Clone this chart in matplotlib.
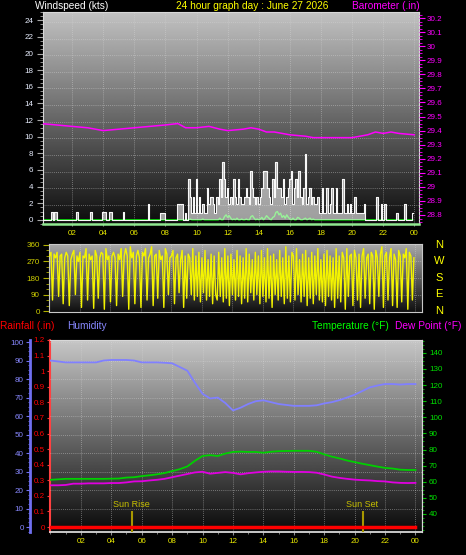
import numpy as np
import matplotlib
matplotlib.use('Agg')
import matplotlib.pyplot as plt
from matplotlib.ticker import MultipleLocator, FuncFormatter

# ---------------- data ----------------
title = "24 hour graph day : June 27 2026"

# 6-minute samples of wind gust (kts), 10 per hour
gust = [
    0, 1, 0, 0, 0, 0, 0, 1, 0, 1,
    1, 0, 0, 0, 0, 0, 0, 0, 0, 0,
    0, 0, 0, 1, 0, 0, 0, 0, 0, 0,
    0, 0, 1, 0, 0, 0, 0, 0, 0, 0,
    1, 1, 0, 0, 1, 1, 0, 0, 0, 0,
    0, 0, 0, 1, 0, 0, 0, 0, 0, 0,
    0, 0, 0, 0, 0, 0, 0, 0, 0, 1.9,
    0, 0, 0, 0, 0, 0, 0, 0.8, 0.8, 0.8,
    0, 0, 0, 0, 0, 0, 0, 0, 1.9, 1.9,
    1.9, 1.9, 0, 0.8, 0, 4.9, 2.8, 0.8, 2.8, 0.8,
    4.9, 0.8, 2.8, 0.8, 1.9, 0.8, 0.8, 3.8, 1.9, 2.8,
    2.8, 1.9, 0.8, 2.8, 1.9, 4.9, 2.8, 6.9, 4.9, 2.8,
    3.8, 1.9, 2.8, 1.9, 4.9, 2.8, 1.9, 4.9, 2.8, 1.9,
    1.9, 2.8, 3.8, 2.8, 1.9, 5.9, 3.8, 2.8, 1.9, 2.8,
    1.9, 2.8, 3.8, 5.9, 5.9, 5.9, 3.8, 2.8, 1.9, 4.9,
    2.8, 6.9, 3.8, 3.8, 3.8, 2.8, 4.9, 1.9, 2.8, 3.8,
    4.9, 5.9, 1.9, 3.8, 4.9, 2.8, 5.9, 2.8, 1.9, 3.8,
    7.9, 1.9, 2.8, 3.8, 1.9, 2.8, 1.9, 1.9, 2.8, 0.8,
    0.8, 3.8, 0.8, 0.8, 3.8, 0.8, 1.9, 3.8, 0.8, 0.8,
    3.8, 0.8, 0.8, 0.8, 4.9, 0.8, 0.8, 1.9, 0.8, 1.9,
    0.8, 0.8, 2.8, 0.8, 0.8, 0.8, 0.8, 0.8, 1.9, 0,
    0, 0, 0, 0, 0, 0, 2.8, 0, 0, 1.9,
    0, 1.9, 0, 0, 0, 0, 0, 0, 0, 0.8,
    0, 0, 0, 0, 1.9, 0, 0, 0, 0, 0.8,
]

# 6-minute average wind speed (kts)
wind_avg = (
    [0] * 90 +
    [0, 0, 0, 0, 0, 0, 0.1, 0, 0, 0,
     0, 0, 0, 0, 0.1, 0, 0, 0, 0, 0,
     0, 0, 0, 0, 0, 0.2, 0, 0, 0.4, 0.6,
     0.3, 0.5, 0.2, 0, 0.1, 0, 0.2, 0, 0, 0.1,
     0, 0, 0.1, 0, 0, 0.4, 0.5, 0.2, 0, 0.1,
     0, 0.1, 0.3, 0, 0.2, 0.5, 0.3, 0.1, 0, 0.3,
     0.4, 0.9, 1.0, 0.6, 0.8, 0.3, 0.5, 0.2, 0.6, 0.3,
     0.1, 0, 0.2, 0, 0, 0.3, 0.2, 0, 0, 0.1,
     0.2, 0, 0.1, 0.2, 0, 0.1, 0, 0, 0, 0] +
    [0] * 60
)

# 6-minute wind direction (degrees)
wind_dir = [
    300, 320, 60, 310, 290, 320, 80, 300, 310, 40,
    290, 320, 300, 30, 280, 310, 330, 90, 300, 270,
    320, 20, 300, 290, 340, 60, 310, 280, 300, 15,
    330, 300, 70, 290, 320, 310, 10, 340, 280, 300,
    50, 300, 320, 290, 30, 310, 280, 340, 80, 300,
    340, 300, 10, 350, 290, 320, 40, 300, 330, 290,
    20, 320, 300, 340, 60, 290, 310, 350, 30, 300,
    310, 70, 330, 280, 300, 20, 340, 310, 90, 290,
    300, 330, 40, 290, 310, 100, 280, 330, 20, 300,
    70, 310, 290, 90, 340, 60, 300, 80, 320, 50,
    290, 100, 330, 60, 280, 80, 310, 40, 300, 90,
    60, 320, 80, 290, 50, 340, 70, 300, 30, 310,
    90, 280, 60, 330, 80, 300, 40, 290, 70, 340,
    50, 310, 100, 280, 60, 320, 90, 300, 40, 330,
    80, 290, 50, 340, 70, 300, 20, 310, 90, 280,
    60, 330, 80, 290, 40, 350, 70, 300, 50, 320,
    300, 60, 340, 90, 280, 50, 310, 80, 330, 30,
    290, 70, 320, 40, 300, 90, 340, 60, 280, 50,
    310, 30, 330, 80, 300, 60, 290, 20, 340, 70,
    300, 50, 320, 290, 10, 340, 80, 300, 310, 30,
    330, 290, 60, 310, 20, 300, 340, 70, 290, 310,
    40, 320, 300, 10, 330, 290, 80, 310, 350, 20,
    300, 320, 60, 290, 340, 30, 310, 280, 20, 330,
    300, 50, 310, 290, 340, 10, 320, 300, 60, 290,
]

# barometer (inHg)
baro_hours = [0, 1, 2, 3, 4, 5, 6, 7, 8, 8.8, 9.3, 10, 10.8, 11.5, 12, 13, 13.5,
              14, 14.5, 15, 16, 17, 17.5, 18, 19, 20, 20.5, 21, 21.5, 22, 22.5, 23, 24]
baro = [29.45, 29.44, 29.43, 29.42, 29.40, 29.41, 29.42, 29.43, 29.44, 29.45, 29.42,
        29.42, 29.43, 29.41, 29.40, 29.41, 29.42, 29.41, 29.39, 29.39, 29.37, 29.36,
        29.35, 29.35, 29.35, 29.35, 29.36, 29.37, 29.39, 29.38, 29.39, 29.38, 29.37]

# half-hourly humidity / temperature / dew point
humidity = [90, 89.5, 89, 89, 89, 89, 89, 90, 90.3, 90.3, 90.3, 90, 89, 89, 89, 88.8,
            88.5, 86.5, 84.5, 78, 72, 69.5, 70, 67, 63, 64.5, 66.5, 68, 68.5, 67.5,
            66.5, 66, 65.5, 65.5, 65.5, 65.8, 66.8, 67.5, 68.6, 70, 71.5, 73.5, 75.5,
            76.5, 77.3, 77.3, 77, 77.3, 77.3]
temperature = [61.2, 61.5, 61.8, 61.8, 61.8, 61.8, 61.8, 61.8, 61.9, 62.0, 62.6, 62.8,
               63.5, 64, 64.6, 65.4, 66.6, 67.8, 69.5, 73, 76, 76.5, 76, 77.5, 78.5,
               78.7, 78.5, 78.5, 78, 78.6, 79, 79.1, 79.2, 79.2, 79.2, 78.6, 77, 75.6,
               74.5, 73.2, 72.2, 71.2, 70.3, 69.4, 68.6, 68.2, 67.5, 67.3, 67.3]
dew_point = [57.8, 57.8, 58.0, 58.8, 58.8, 59, 59, 59, 59.2, 59.2, 59.6, 60.2, 60.3,
             60.8, 61.2, 61.8, 62.8, 63.8, 64.8, 65.8, 66.2, 65, 65.5, 66, 65.5, 64.6,
             65.3, 65.8, 66.2, 66.4, 66.4, 66.2, 66.1, 66.1, 66, 65.6, 64.5, 63.2, 62.4,
             61.8, 61.3, 61, 60.8, 60.4, 60.2, 59.6, 59.3, 59.2, 59.3]
rainfall = [0] * 49

sun_rise = 5.35
sun_set = 20.55

hour_labels = ['02', '04', '06', '08', '10', '12', '14', '16', '18', '20', '22', '00']
compass = ['N', 'W', 'S', 'E', 'N']

t6 = np.arange(len(gust)) * 0.1
t30 = np.arange(len(humidity)) * 0.5
hour_ticks = np.arange(2, 25, 2)

# ---------------- figure ----------------
W, H = 466, 555
plt.rcParams['font.family'] = ['Liberation Sans', 'DejaVu Sans']
fig = plt.figure(figsize=(W / 100, H / 100), dpi=100, facecolor='black')


def rect(l, t, r, b):
    return [l / W, 1 - b / H, (r - l) / W, (b - t) / H]


def gradient(ax, top, bottom):
    g = np.linspace(bottom, top, 256).reshape(-1, 1)
    ax.imshow(g, extent=[0, 1, 0, 1], transform=ax.transAxes, origin='lower',
              cmap='gray', vmin=0, vmax=1, aspect='auto', zorder=0,
              interpolation='bilinear')


fmt_num = FuncFormatter(lambda v, p: ('%.1f' % v).rstrip('0').rstrip('.'))
GRID = dict(color='#d8d8d8', lw=0.6, ls=(0, (1, 1.5)), alpha=0.55, zorder=1)
TICKFS = 5.8

# ---------- top panel: wind speed + barometer ----------
ax1 = fig.add_axes(rect(43, 12, 419, 224))
ax1.set_facecolor('none')
gradient(ax1, 0.76, 0.05)
for h in hour_ticks:
    ax1.axvline(h, **GRID)
for v in range(2, 25, 2):
    ax1.axhline(v - 0.2, **GRID)
ax1.plot(t6, wind_avg, color='#00e000', lw=1, zorder=2)
ax1.fill_between(t6, 0, gust, step='mid', color='#ffffff', alpha=0.6, lw=0, zorder=3)
ax1.plot(t6, gust, drawstyle='steps-mid', color='#f8f8f8', lw=0.8, zorder=4)
ax1.set_xlim(0.13, 24.3)
ax1.set_ylim(-0.5, 25)
ax1.yaxis.set_major_locator(MultipleLocator(2))
ax1.yaxis.set_minor_locator(MultipleLocator(0.5))
ax1.xaxis.set_major_locator(plt.FixedLocator(hour_ticks))
ax1.xaxis.set_major_formatter(plt.FixedFormatter(hour_labels))
ax1.tick_params(axis='y', colors='#a8a8a8', labelcolor='#e8eeff', labelsize=TICKFS,
                length=4.5, width=0.8, pad=2.5)
ax1.tick_params(axis='y', which='minor', colors='#a8a8a8', length=2, width=0.6)
ax1.tick_params(axis='x', colors='#909090', labelcolor='#e8e800', labelsize=TICKFS,
                length=1.5, pad=2.5)
for s in ['left', 'top', 'right']:
    ax1.spines[s].set_color('#d8d8d8')
ax1.spines['bottom'].set_color('#90e890')
ax1.spines['bottom'].set_linewidth(1.8)

ax1b = ax1.twinx()
ax1b.plot(baro_hours, baro, color='#ff00ff', lw=1.1, zorder=5)
ax1b.set_ylim(28.736, 30.243)
ax1b.set_xlim(0.13, 24.3)
ax1b.yaxis.set_major_locator(MultipleLocator(0.1))
ax1b.yaxis.set_minor_locator(MultipleLocator(0.025))
ax1b.yaxis.set_major_formatter(fmt_num)
ax1b.tick_params(axis='y', colors='#ff00ff', labelcolor='#ff00ff', labelsize=TICKFS,
                 length=4, width=0.8, pad=1.5)
ax1b.tick_params(axis='y', which='minor', colors='#ff00ff', length=1.8, width=0.6)
for s in ax1b.spines.values():
    s.set_visible(False)

# ---------- middle panel: wind direction ----------
ax2 = fig.add_axes(rect(49, 244, 422, 312))
ax2.set_facecolor('none')
gradient(ax2, 0.66, 0.06)
for h in hour_ticks:
    ax2.axvline(h, **GRID)
for v in [90, 180, 270]:
    ax2.axhline(v, **GRID)
ax2.plot(t6, wind_dir, color='#f4f400', lw=1.0, zorder=3)
ax2.set_xlim(-0.03, 24.43)
ax2.set_ylim(-5, 365)
ax2.yaxis.set_major_locator(plt.FixedLocator([0, 90, 180, 270, 360]))
ax2.yaxis.set_minor_locator(MultipleLocator(30))
ax2.set_xticks([])
ax2.tick_params(axis='y', colors='#b0b000', labelcolor='#d0d000', labelsize=TICKFS,
                length=4, width=0.8, pad=2.5)
ax2.tick_params(axis='y', which='minor', colors='#b0b000', length=2)
for s in ax2.spines.values():
    s.set_color('#c8c8c8')
for i, c in enumerate(compass):
    fig.text(439 / W, 1 - (245 + i * 16.4) / H, c, color='#ffff00', fontsize=8,
             ha='center', va='center')

# ---------- bottom panel: rain / humidity / temp / dew ----------
ax3 = fig.add_axes(rect(50, 340, 422, 532))
ax3.set_facecolor('none')
gradient(ax3, 0.78, 0.04)
for h in hour_ticks:
    ax3.axvline(h, **GRID)
ax3.plot(t30, rainfall, color='#ff0000', lw=2.5, zorder=6)
ax3.vlines([sun_rise, sun_set], -0.03, 0.1, color='#a89800', lw=1.5, zorder=5)
ax3.text(sun_rise - 0.05, 0.115, 'Sun Rise', color='#c8c000', fontsize=6.5,
         ha='center', va='bottom', zorder=5)
ax3.text(sun_set - 0.05, 0.115, 'Sun Set', color='#c8c000', fontsize=6.5,
         ha='center', va='bottom', zorder=5)
ax3.set_xlim(-0.03, 24.43)
ax3.set_ylim(-0.032, 1.2)
ax3.yaxis.set_major_locator(MultipleLocator(0.1))
ax3.yaxis.set_minor_locator(MultipleLocator(0.05))
ax3.yaxis.set_major_formatter(fmt_num)
ax3.xaxis.set_major_locator(plt.FixedLocator(hour_ticks))
ax3.xaxis.set_major_formatter(plt.FixedFormatter(hour_labels))
ax3.xaxis.set_minor_locator(MultipleLocator(1))
ax3.tick_params(axis='y', colors='#ff3030', labelcolor='#ff0000', labelsize=TICKFS,
                length=2, width=0.8, pad=1.5)
ax3.tick_params(axis='y', which='minor', colors='#ff3030', length=1)
ax3.tick_params(axis='x', colors='#909090', labelcolor='#e8e800', labelsize=TICKFS,
                length=2, pad=2.5)
ax3.tick_params(axis='x', which='minor', colors='#909090', length=1.5)
for s in ['top', 'right', 'bottom']:
    ax3.spines[s].set_color('#d8d8d8')
ax3.spines['bottom'].set_linewidth(1.3)
ax3.spines['left'].set_color('#ff4040')
ax3.spines['left'].set_linewidth(1.5)
ax3.spines['left'].set_linestyle((0, (2, 1)))

ax3h = ax3.twinx()
ax3h.yaxis.set_label_position('left')
ax3h.yaxis.tick_left()
ax3h.spines['left'].set_position(('outward', 14.4))
ax3h.spines['left'].set_visible(True)
ax3h.spines['left'].set_color('#7070f0')
ax3h.spines['left'].set_linewidth(2)
for s in ['top', 'right', 'bottom']:
    ax3h.spines[s].set_visible(False)
for v in range(10, 101, 10):
    ax3h.axhline(v, **GRID)
ax3h.plot(t30, humidity, color='#8080ff', lw=1.3, zorder=4)
ax3h.set_xlim(-0.03, 24.43)
ax3h.set_ylim(-2.7, 101.1)
ax3h.yaxis.set_major_locator(MultipleLocator(10))
ax3h.yaxis.set_minor_locator(MultipleLocator(2.5))
ax3h.tick_params(axis='y', colors='#7070f0', labelcolor='#8888ff', labelsize=TICKFS,
                 length=3, width=0.8, pad=1.5)
ax3h.tick_params(axis='y', which='minor', colors='#7070f0', length=1.5)

ax3t = ax3.twinx()
ax3t.plot(t30, temperature, color='#00d000', lw=1.3, zorder=4)
ax3t.plot(t30, dew_point, color='#e000e0', lw=1.3, zorder=4)
ax3t.set_xlim(-0.03, 24.43)
ax3t.set_ylim(28.8, 148)
ax3t.yaxis.set_major_locator(plt.FixedLocator(range(40, 141, 10)))
ax3t.yaxis.set_minor_locator(MultipleLocator(2.5))
ax3t.tick_params(axis='y', colors='#00c000', labelcolor='#00e000', labelsize=TICKFS,
                 length=3, width=0.8, pad=2)
ax3t.tick_params(axis='y', which='minor', colors='#00c000', length=1.5)
for s in ax3t.spines.values():
    s.set_visible(False)
ax3t.spines['right'].set_visible(True)
ax3t.spines['right'].set_color('#d8d8d8')

# ---------- header texts ----------
HFS = 7.3
fig.text(35 / W, 1 - 6 / H, 'Windspeed (kts)', color='white', fontsize=HFS, va='center')
fig.text(252 / W, 1 - 6 / H, title, color='#ffff00', fontsize=HFS, va='center', ha='center')
fig.text(420 / W, 1 - 6 / H, 'Barometer (.in)', color='#ff00ff', fontsize=HFS, va='center', ha='right')
fig.text(0 / W, 1 - 326 / H, 'Rainfall (.in)', color='#ff0000', fontsize=HFS, va='center')
fig.text(67 / W, 1 - 326 / H, 'Humidity', color='#8888ff', fontsize=HFS, va='center')
fig.text(312 / W, 1 - 326 / H, 'Temperature (°F)', color='#00ff00', fontsize=HFS, va='center')
fig.text(395 / W, 1 - 326 / H, 'Dew Point (°F)', color='#ff00ff', fontsize=HFS, va='center')

fig.savefig('out.png', dpi=100, facecolor='black')
